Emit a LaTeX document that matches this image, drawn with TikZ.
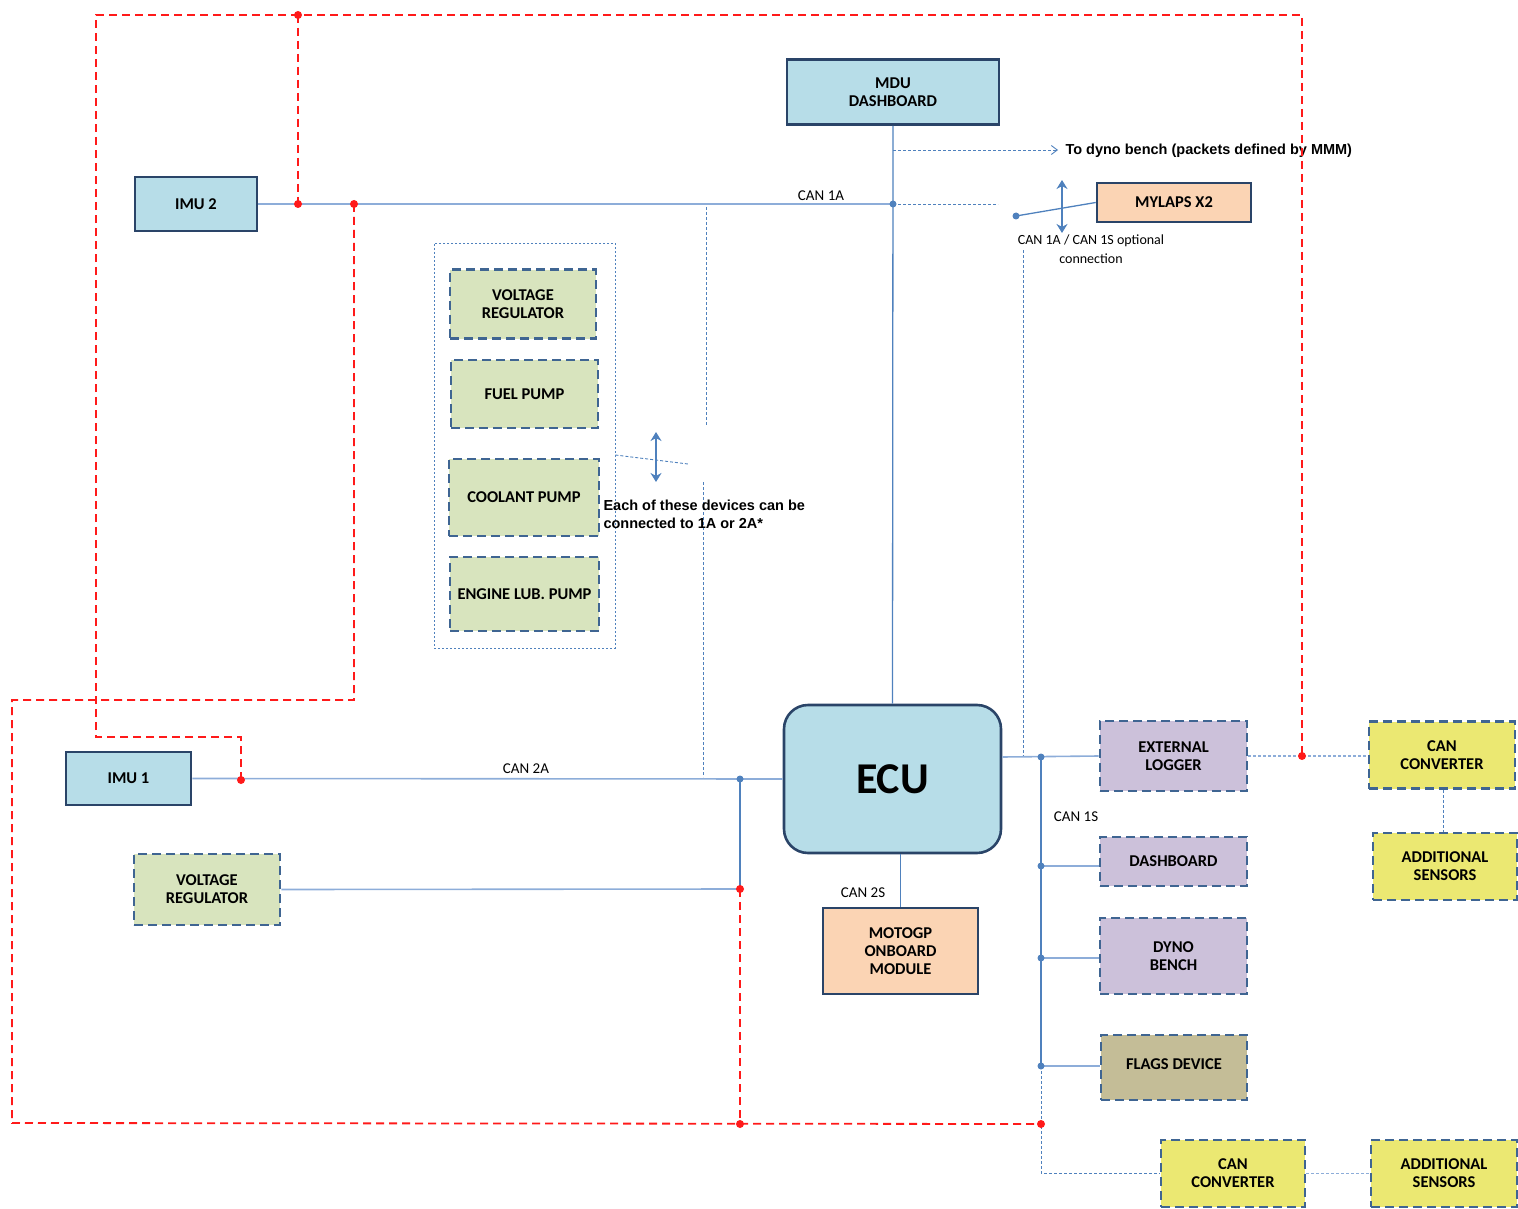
\documentclass[tikz,border=0pt]{standalone}
\usepackage{fontspec}
\setmainfont{Carlito}
\newfontfamily\arialfont{Liberation Sans}
\usetikzlibrary{arrows.meta}

\definecolor{ecublue}{HTML}{B7DDE8}
\definecolor{navyline}{HTML}{2A4468}
\definecolor{dashblue}{HTML}{3F6592}
\definecolor{devgreen}{HTML}{D8E4BE}
\definecolor{devpurple}{HTML}{CCC1DA}
\definecolor{devyellow}{HTML}{EBE872}
\definecolor{devpeach}{HTML}{FBD4B4}
\definecolor{devtan}{HTML}{C4BD97}
\definecolor{busblue}{HTML}{4F81BD}
\definecolor{wireblue}{HTML}{8DADD9}
\definecolor{powerred}{HTML}{FF1A1A}

\begin{document}
\begin{tikzpicture}[x=1pt,y=-1pt,
    every node/.style={font=\fontsize{16.5}{18}\selectfont\bfseries, align=center},
    hardbox/.style={draw=navyline, line width=2.6pt, inner sep=0pt},
    softbox/.style={draw=dashblue, line width=2.6pt, dash pattern=on 9pt off 5pt, inner sep=0pt},
    wire/.style={draw=wireblue, line width=1.6pt},
    bus/.style={draw=busblue, line width=1.3pt},
    dotwire/.style={draw=busblue, line width=0.9pt, dash pattern=on 3pt off 2pt},
    lightdot/.style={draw=wireblue, line width=1.5pt, dash pattern=on 3pt off 2pt},
    redwire/.style={draw=powerred, line width=1.8pt, dash pattern=on 8pt off 5pt},
    bluedot/.style={fill=busblue, circle, inner sep=0pt, minimum size=7pt},
    reddot/.style={fill=powerred, circle, inner sep=0pt, minimum size=8pt},
    canlabel/.style={font=\fontsize{15}{16}\selectfont},
    twoway/.style={draw=busblue, line width=2.6pt, {Stealth[length=9pt,width=11pt]}-{Stealth[length=9pt,width=11pt]}}]

\useasboundingbox (0,0) rectangle (1518,1209);

% main units
\node[hardbox, fill=ecublue, minimum width=212pt, minimum height=65pt] (mdu) at (893,92) {MDU\\DASHBOARD};
\node[hardbox, fill=ecublue, minimum width=122pt, minimum height=54pt] (imutwo) at (196,204) {IMU 2};
\node[hardbox, fill=ecublue, minimum width=125pt, minimum height=53pt] (imuone) at (128.5,778.5) {IMU 1};
\node[hardbox, fill=ecublue, rounded corners=24pt, minimum width=217pt, minimum height=148pt,
      font=\fontsize{44}{48}\selectfont\bfseries] (ecu) at (892.5,779) {ECU};
\node[hardbox, fill=devpeach, minimum width=155pt, minimum height=86pt] (motogp) at (900.5,951) {MOTOGP\\ONBOARD\\MODULE};
\node[hardbox, fill=devpeach, minimum width=154pt, minimum height=39pt] (mylaps) at (1174,202.5) {MYLAPS X2};

% devices on CAN 1A or CAN 2A
\node[draw=busblue, line width=0.8pt, dash pattern=on 2pt off 2pt, minimum width=181pt, minimum height=405pt] (group) at (524.5,445.5) {};
\node[softbox, fill=devgreen, minimum width=146pt, minimum height=69pt] (vreg) at (523,304) {VOLTAGE\\REGULATOR};
\node[softbox, fill=devgreen, minimum width=147pt, minimum height=68pt] (fuel) at (524.5,394) {FUEL PUMP};
\node[softbox, fill=devgreen, minimum width=150pt, minimum height=77pt] (coolant) at (524,497.5) {COOLANT PUMP};
\node[softbox, fill=devgreen, minimum width=149pt, minimum height=74pt] (lub) at (524.5,594) {ENGINE LUB. PUMP};
\node[softbox, fill=devgreen, minimum width=146pt, minimum height=71pt] (vregtwo) at (207,889.5) {VOLTAGE\\REGULATOR};

% devices on CAN 1S
\node[softbox, fill=devpurple, minimum width=147pt, minimum height=70pt] (logger) at (1173.5,756) {EXTERNAL\\LOGGER};
\node[softbox, fill=devpurple, minimum width=147pt, minimum height=49pt] (dash) at (1173.5,861.5) {DASHBOARD};
\node[softbox, fill=devpurple, minimum width=147pt, minimum height=76pt] (dyno) at (1173.5,956) {DYNO\\BENCH};
\node[softbox, fill=devtan, minimum width=146pt, minimum height=65pt] (flags) at (1174,1067.5) {\raisebox{6pt}{FLAGS DEVICE}};
\node[softbox, fill=devyellow, minimum width=146pt, minimum height=67pt] (canconv) at (1442,755) {CAN\\CONVERTER};
\node[softbox, fill=devyellow, minimum width=144pt, minimum height=67pt] (addsens) at (1445,866.5) {ADDITIONAL\\SENSORS};
\node[softbox, fill=devyellow, minimum width=144pt, minimum height=67pt] (canconvtwo) at (1233,1173.5) {CAN\\CONVERTER};
\node[softbox, fill=devyellow, minimum width=146pt, minimum height=67pt] (addsenstwo) at (1444,1173.5) {ADDITIONAL\\SENSORS};

% junctions
\coordinate (onea) at (893,204);
\coordinate (onealt) at (1016,216);
\coordinate (twoa) at (740,779);
\coordinate (vregjoin) at (740,889);
\coordinate (topleft) at (1041,757);
\coordinate (sdash) at (1041,866);
\coordinate (sdyno) at (1041,958);
\coordinate (sflags) at (1041,1066);
\coordinate (sground) at (1041,1124);
\coordinate (sbottom) at (1041,1173);

% CAN 1A
\draw[wire] (imutwo.east) -- (onea);
\draw[dotwire] (onea) -- (998,204);
\draw[bus] (mdu.south) -- (ecu.north);
\draw[dotwire, -{Straight Barb[length=6pt,width=9pt]}] (893,150) -- (1058,150);
\node[anchor=west, font=\arialfont\fontsize{14.5}{16}\selectfont\bfseries] (dynotext) at (1062,151) {To dyno bench (packets defined by MMM)};
\draw[bus] (onealt) -- (mylaps.west);
\draw[twoway] (1062,180) -- (1062,233);
\node[canlabel, font=\fontsize{14}{19}\selectfont] (optional) at (1091,249) {CAN 1A / CAN 1S optional\\connection};
\draw[dotwire] (1023,250) -- (1023,757);
\node[canlabel, anchor=south] (canonea) at (821,204) {CAN 1A};

% note on the devices
\draw[dotwire] (706,207) -- (706,425);
\draw[dotwire] (703,482) -- (703,777);
\draw[dotwire] (group.east |- 0,455) -- (688,464);
\draw[twoway] (656,432) -- (656,482);
\node[anchor=north west, align=left, font=\arialfont\fontsize{14.5}{18}\selectfont\bfseries] (note) at (600,496)
  {Each of these devices can be\\connected to 1A or 2A*};

% CAN 2A
\draw[wire] (imuone.east) -- (ecu.west);
\draw[bus] (twoa) -- (vregjoin);
\draw[wire] (vregtwo.east) -- (vregjoin);
\node[canlabel, anchor=south] (cantwoa) at (526,777) {CAN 2A};

% CAN 2S
\draw[bus] (ecu.south -| motogp.north) -- (motogp.north);
\node[canlabel] (cantwos) at (863,893) {CAN 2S};

% CAN 1S
\draw[wire] (ecu.east |- topleft) -- (logger.west);
\draw[bus] (topleft) -- (sflags);
\draw[wire] (sdash) -- (dash.west |- sdash);
\draw[wire] (sdyno) -- (dyno.west |- sdyno);
\draw[wire] (sflags) -- (flags.west |- sflags);
\draw[dotwire] (sflags) -- (sbottom) -- (canconvtwo.west |- sbottom);
\draw[lightdot] (logger.east) -- (canconv.west |- logger.east);
\draw[dotwire] (canconv.south -| 1443,0) -- (addsens.north -| 1443,0);
\draw[lightdot] (canconvtwo.east) -- (addsenstwo.west);
\node[canlabel] (canones) at (1076,817) {CAN 1S};

% power lines
\draw[redwire] (241,780) -- (241,737) -- (96,737) -- (96,15) -- (1302,15) -- (1302,756);
\draw[redwire] (298,15) -- (298,204);
\draw[redwire] (354,204) -- (354,700) -- (12,700) -- (12,1123) -- (sground);
\draw[redwire] (vregjoin) -- (740,1124);

% dots
\foreach \p in {onea, onealt, twoa, topleft, sdash, sdyno, sflags}
  \node[bluedot] at (\p) {};
\foreach \p in {(298,15), (298,204), (354,204), (241,780), (740,889), (740,1124), (1041,1124), (1302,756)}
  \node[reddot] at \p {};

\end{tikzpicture}
\end{document}
